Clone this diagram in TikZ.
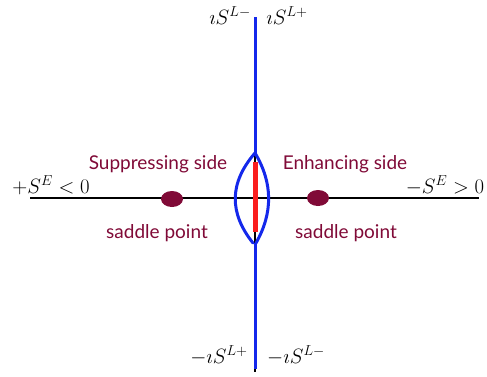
\documentclass[tikz,border=0pt]{standalone}
\usepackage{fontspec}
\newfontfamily\labelfont{Lato}
\definecolor{maroon}{RGB}{128,10,55}
\definecolor{bluel}{RGB}{20,40,235}
\definecolor{redl}{RGB}{250,30,30}
\tikzset{
  lbl/.style={font=\labelfont\fontsize{19}{22}\selectfont, text=maroon, inner sep=0pt},
  mlbl/.style={font=\fontsize{19.5}{22}\selectfont, inner sep=0pt},
  saddle/.style={ellipse, fill=maroon, minimum width=22pt, minimum height=16pt, inner sep=0pt},
  bluepath/.style={draw=bluel, line width=3pt},
}
\usetikzlibrary{shapes.geometric}
\begin{document}
\begin{tikzpicture}[x=1pt,y=-1pt]
\useasboundingbox (0,0) rectangle (487,376);
% axes
\coordinate (hl) at (30,198);
\coordinate (hr) at (479,198);
\coordinate (vt) at (255,17);
\coordinate (vb) at (255,372);
\coordinate (lt) at (255,153);
\coordinate (lbl) at (253,243);
\coordinate (lbr) at (256,243);
\coordinate (lbc) at (255,243);
\coordinate (ve) at (255,369);
\coordinate (rt) at (255,162);
\coordinate (rb) at (255,232);
\draw[line width=1.3pt] (hl) -- (hr);
\draw[line width=1.3pt] (vt) -- (vb);
\draw[bluepath] (vt) -- (lt);
\draw[bluepath] (lbc) -- (ve);
\draw[redl, line width=5pt] (rt) -- (rb);
\draw[bluepath, line cap=round] (lt) .. controls (229,183) and (229,213) .. (lbl);
\draw[bluepath, line cap=round] (lt) .. controls (273,183) and (273,213) .. (lbr);
% saddle points
\node[saddle] (sl) at (172,199) {};
\node[saddle] (sr) at (318,198) {};
% labels
\node[lbl] (sup) at (158,164) {Suppressing side};
\node[lbl] (enh) at (345,164) {Enhancing side};
\node[lbl] (spl) at (157,233) {saddle point};
\node[lbl] (spr) at (346,233) {saddle point};
\node[mlbl, anchor=base] (pl) at (51,193) {$+S^{E}<0$};
\node[mlbl, anchor=base] (pr) at (445,193) {$-S^{E}>0$};
\node[mlbl, anchor=base] (tl) at (230,24) {$\imath S^{L-}$};
\node[mlbl, anchor=base] (tr) at (287,24) {$\imath S^{L+}$};
\node[mlbl, anchor=base] (bl) at (219,363) {$-\imath S^{L+}$};
\node[mlbl, anchor=base] (br) at (296,363) {$-\imath S^{L-}$};
\end{tikzpicture}
\end{document}
